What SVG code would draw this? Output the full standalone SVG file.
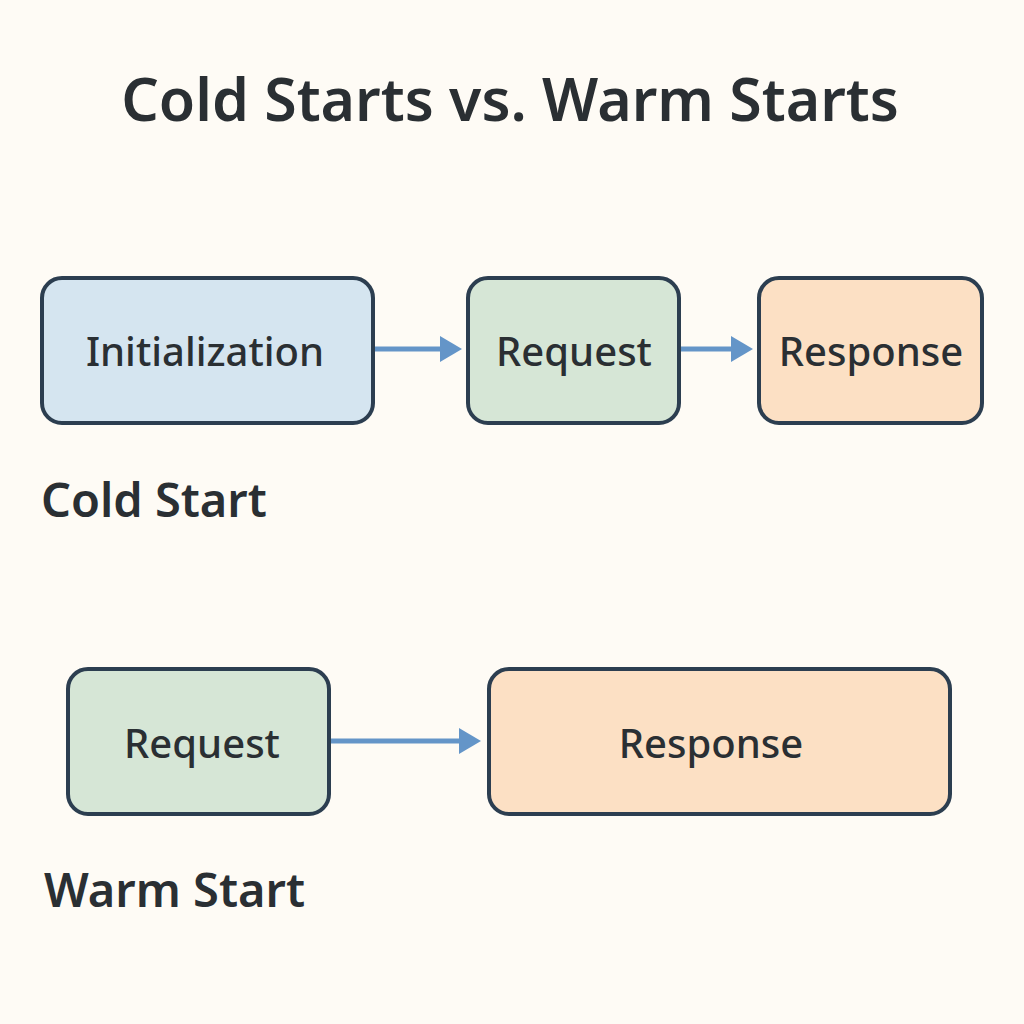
<svg xmlns="http://www.w3.org/2000/svg" width="1024" height="1024" viewBox="0 0 1024 1024">
<defs>
<style>
.box{stroke:#2c3e50;stroke-width:4}
.blue{fill:#d5e5f0}
.green{fill:#d6e6d6}
.orange{fill:#fce0c4}
.lbl{font-family:"Noto Sans","Liberation Sans",sans-serif;font-size:40px;fill:#2a2f33;text-anchor:middle;font-weight:500}
.sec{font-family:"Noto Sans","Liberation Sans",sans-serif;font-size:47px;fill:#2a2f33;font-weight:600}
.title{font-family:"Noto Sans","Liberation Sans",sans-serif;font-size:59px;fill:#2a2f33;font-weight:600;text-anchor:middle}
.arr{stroke:#6495c8;stroke-width:5;fill:none}
.head{fill:#6495c8}
</style>
</defs>
<rect width="1024" height="1024" fill="#fefbf5"/>
<text class="title" x="510" y="121">Cold Starts vs. Warm Starts</text>
<g id="connectors">
<line class="arr" x1="375" y1="349" x2="442" y2="349"/>
<path class="head" d="M440,336 L462,349 L440,362 Z"/>
<line class="arr" x1="681" y1="349" x2="733" y2="349"/>
<path class="head" d="M731,336 L753,349 L731,362 Z"/>
<line class="arr" x1="331" y1="741" x2="461" y2="741"/>
<path class="head" d="M459,728 L481,741 L459,754 Z"/>
</g>
<g id="init">
<rect class="box blue" x="42" y="278" width="331" height="145" rx="20"/>
<text class="lbl" x="205" y="366">Initialization</text>
</g>
<g id="req1">
<rect class="box green" x="468" y="278" width="211" height="145" rx="20"/>
<text class="lbl" x="574" y="366">Request</text>
</g>
<g id="resp1">
<rect class="box orange" x="759" y="278" width="223" height="145" rx="20"/>
<text class="lbl" x="871" y="366">Response</text>
</g>
<text class="sec" x="41" y="517">Cold Start</text>
<g id="req2">
<rect class="box green" x="68" y="669" width="261" height="145" rx="20"/>
<text class="lbl" x="202" y="758">Request</text>
</g>
<g id="resp2">
<rect class="box orange" x="489" y="669" width="461" height="145" rx="20"/>
<text class="lbl" x="711" y="758">Response</text>
</g>
<text class="sec" x="44" y="907">Warm Start</text>
</svg>
